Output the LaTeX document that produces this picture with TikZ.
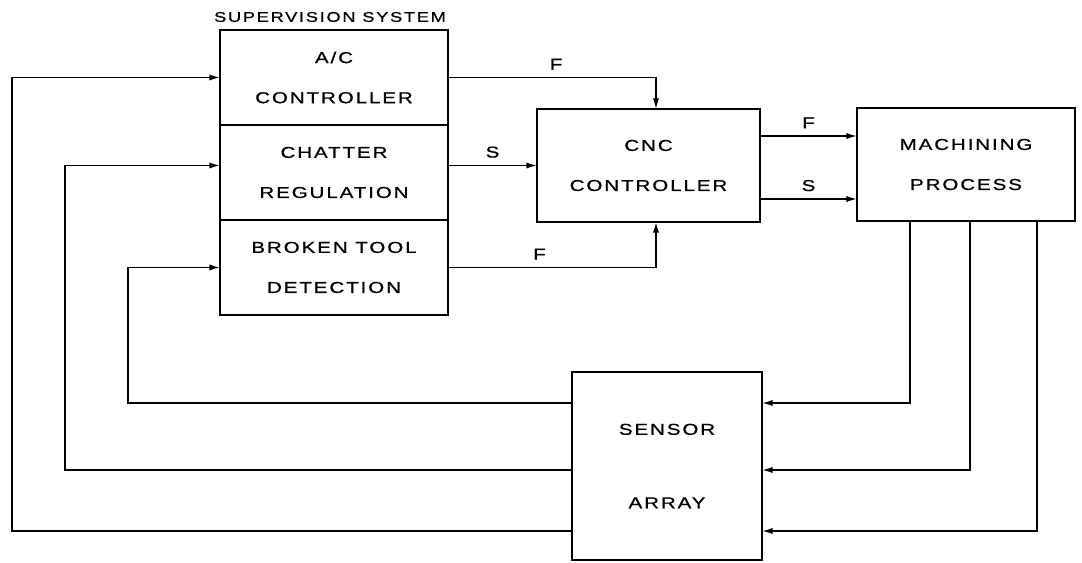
\documentclass[tikz,border=0pt]{standalone}
\usepackage{fontspec}
\newfontfamily\plotfont[FakeStretch=1.3,LetterSpace=12,FakeBold=0.8]{Liberation Sans}
\usetikzlibrary{arrows.meta,positioning,calc}

\begin{document}
\begin{tikzpicture}[x=0.02cm, y=-0.02cm,
  blk/.style={draw, line width=0.9pt, inner sep=0pt, outer sep=0pt, align=center, font=\plotfont\fontsize{9}{22.8}\selectfont},
  sub/.style={blk, minimum width=4.56cm, minimum height=1.9cm},
  arr/.style={-{Latex[length=6pt,width=3.5pt]}, line width=0.9pt},
  lbl/.style={font=\plotfont\fontsize{9}{10}\selectfont, inner sep=1pt}]
\useasboundingbox (0,0) rectangle (1082,562);
% supervision system
\node[sub] (ac) at (334,77.5) {A/C\\CONTROLLER};
\node[sub, below=0pt of ac] (chat) {CHATTER\\REGULATION};
\node[sub, below=0pt of chat] (brk) {BROKEN TOOL\\DETECTION};
\node[lbl, font=\plotfont\fontsize{8}{10}\selectfont] (title) at (330,17) {SUPERVISION SYSTEM};
% plant side
\node[blk, minimum width=4.46cm, minimum height=2.26cm] (cnc) at (648.5,165.5) {CNC\\CONTROLLER};
\node[blk, minimum width=4.36cm, minimum height=2.26cm] (mach) at (966,164.5) {MACHINING\\PROCESS};
\node[blk, minimum width=3.8cm, minimum height=3.76cm] (sens) at (667,466) {SENSOR\\[19pt]ARRAY};
\coordinate (f1) at ($(cnc.east)+(0,-29.5)$);
\coordinate (s1) at ($(cnc.east)+(0,33.5)$);
\coordinate (c1) at ($(chat.west)+(0,-7)$);
% commands to the cnc
\draw[arr] (ac.east) -| node[lbl, pos=0.26, above=3pt] {F} ([xshift=0.15cm]cnc.north);
\draw[arr] (chat.east |- cnc.west) -- node[lbl, above=3pt] {S} (cnc.west);
\draw[arr] (brk.east) -| node[lbl, pos=0.22, above=3pt] {F} ([xshift=0.15cm]cnc.south);
\draw[arr] (f1) -- node[lbl, above=3pt] {F} (f1 -| mach.west);
\draw[arr] (s1) -- node[lbl, above=3pt] {S} (s1 -| mach.west);
% process to sensors
\draw[arr] (mach.south -| 910,0) |- (sens.east |- 0,403);
\draw[arr] (mach.south -| 970,0) |- (sens.east |- 0,470);
\draw[arr] (mach.south -| 1037,0) |- (sens.east |- 0,531);
% sensors back to supervision
\draw[arr] (sens.west |- 0,403) -| (brk.west -| 128,0) -- (brk.west);
\draw[arr] (sens.west |- 0,470) -| (c1 -| 65,0) -- (c1);
\draw[arr] (sens.west |- 0,531) -| (ac.west -| 12,0) -- (ac.west);
\end{tikzpicture}
\end{document}
